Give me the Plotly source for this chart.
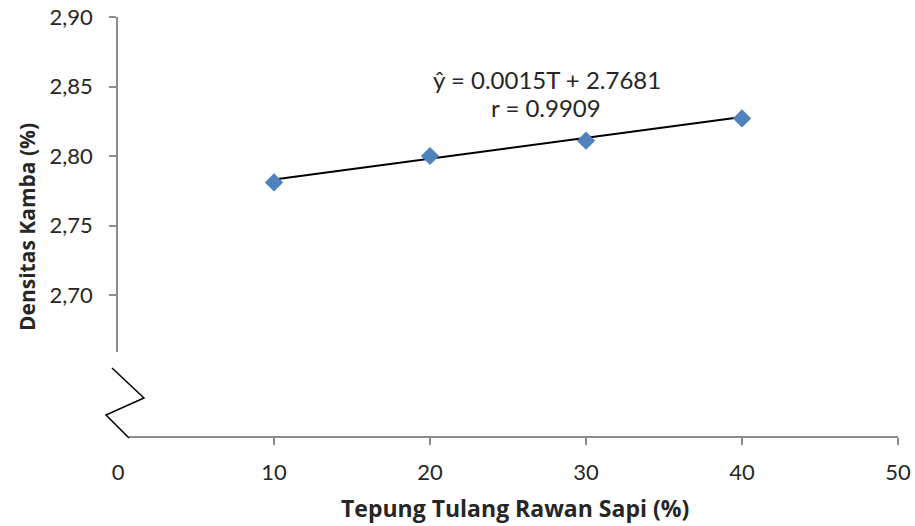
import plotly.graph_objects as go

# Bone-cartilage flour level (%) and bulk density measurements
tepung = [10, 20, 30, 40]
densitas = [2.781, 2.800, 2.811, 2.827]

# Linear regression reported for the series
slope = 0.0015
intercept = 2.7681
r_value = 0.9909

x_ticks = [0, 10, 20, 30, 40, 50]
y_ticks = [2.70, 2.75, 2.80, 2.85, 2.90]
y_tick_labels = ["2,70", "2,75", "2,80", "2,85", "2,90"]

FONT = "Lato, 'Open Sans', sans-serif"
TITLE_FONT = "'Open Sans', Lato, sans-serif"
TEXT = "#262626"
AXIS_GREY = "#8c8c8c"

# Layout geometry in pixels
W, H = 915, 526
ML, MR, MT, MB = 118, 17, 17, 89
PW, PH = W - ML - MR, H - MT - MB
y_axis_bottom_px = 352            # y axis stops above the break
x_line_start_px = 129             # x axis line starts after the break

y_dom0 = (H - MB - y_axis_bottom_px) / PH
x2_dom0 = (x_line_start_px - ML) / PW
x_range = [0, 50]
x2_start = x_range[0] + (x_range[1] - x_range[0]) * x2_dom0

fit_x = [tepung[0], tepung[-1]]
fit_y = [slope * t + intercept for t in fit_x]

fig = go.Figure()
fig.add_trace(go.Scatter(
    x=fit_x, y=fit_y, mode="lines",
    line=dict(color="black", width=2),
    showlegend=False, hoverinfo="skip",
))
fig.add_trace(go.Scatter(
    x=tepung, y=densitas, mode="markers",
    marker=dict(symbol="diamond", size=14, color="#4F81BD"),
    showlegend=False, hoverinfo="skip",
))
# invisible trace to keep the tick-only x axis alive
fig.add_trace(go.Scatter(x=[x2_start], y=[2.8], xaxis="x2", mode="markers",
                         marker=dict(opacity=0), showlegend=False, hoverinfo="skip"))


def px_to_paper(px, py):
    return (px - ML) / PW, (H - MB - py) / PH


def label(text, cx, cy, size, family=FONT, angle=0):
    x, _ = px_to_paper(cx, 0)
    _, y = px_to_paper(0, cy)
    return dict(text=text, x=x, y=y, xref="paper", yref="paper",
                xanchor="center", yanchor="middle", showarrow=False,
                textangle=angle, font=dict(family=family, size=size, color=TEXT))


# axis break zig-zag
zig = [(112, 368), (144, 398), (106, 415), (129, 438)]
pts = [px_to_paper(a, b) for a, b in zig]
path = "M " + " L ".join(f"{a:.4f},{b:.4f}" for a, b in pts)

fig.update_layout(
    width=W, height=H,
    margin=dict(l=ML, r=MR, t=MT, b=MB, autoexpand=False),
    paper_bgcolor="white", plot_bgcolor="rgba(0,0,0,0)",
    font=dict(family=FONT, size=22, color=TEXT),
    xaxis=dict(
        domain=[0, 1], range=x_range, tickvals=x_ticks,
        ticks="", showline=False, showgrid=False, zeroline=False,
        anchor="free", position=0, ticklabelstandoff=20, automargin=False,
        tickfont=dict(size=22, color=TEXT),
    ),
    xaxis2=dict(
        domain=[x2_dom0, 1], range=[x2_start, x_range[1]],
        tickvals=x_ticks[1:], ticks="outside", ticklen=7, tickwidth=1.5,
        tickcolor=AXIS_GREY, showline=True, linecolor=AXIS_GREY, linewidth=1.5,
        showticklabels=False, showgrid=False, zeroline=False,
        anchor="free", position=0, automargin=False,
    ),
    yaxis=dict(
        domain=[y_dom0, 1], range=[2.659, 2.90],
        tickvals=y_ticks, ticktext=y_tick_labels,
        ticks="outside", ticklen=7, tickwidth=1.5, tickcolor=AXIS_GREY,
        showline=True, linecolor=AXIS_GREY, linewidth=1.5,
        showgrid=False, zeroline=False, ticklabelstandoff=12, automargin=False,
        tickfont=dict(size=22, color=TEXT),
    ),
    shapes=[dict(type="path", path=path, xref="paper", yref="paper",
                 line=dict(color="black", width=1.5))],
    annotations=[
        label(f"ŷ = {slope}T + {intercept}", 547, 79, 24),
        label(f"r = {r_value}", 546, 107, 24),
        label("<b>Tepung Tulang Rawan Sapi (%)</b>", 515, 508, 23, TITLE_FONT),
        label("<b>Densitas Kamba (%)</b>", 27, 227, 21, TITLE_FONT, -90),
    ],
)

fig.write_html("out.html")
